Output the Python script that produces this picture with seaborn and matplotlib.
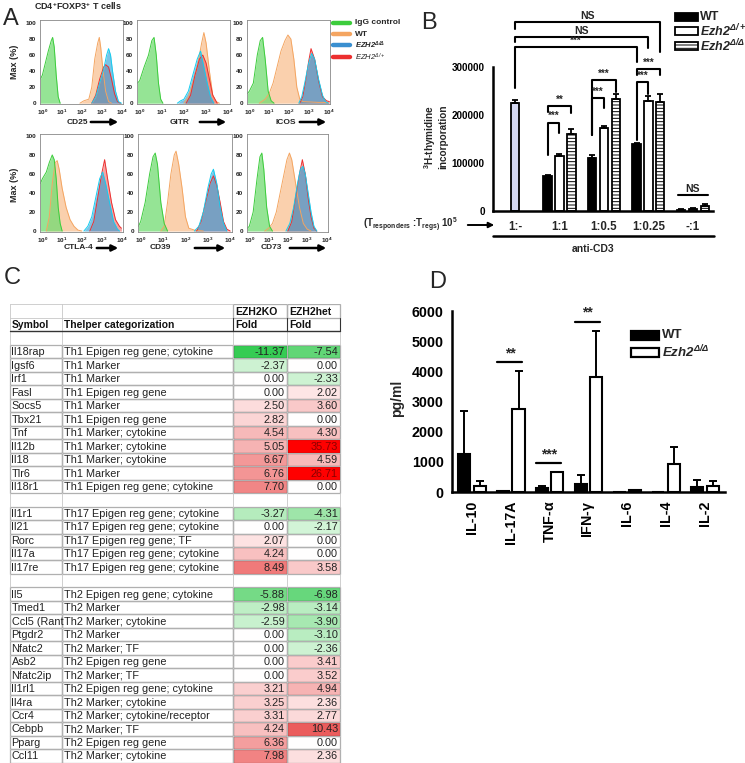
import numpy as np
import pandas as pd
import matplotlib
matplotlib.use("Agg")
import matplotlib.pyplot as plt
import seaborn as sns
from matplotlib.patches import Patch, Rectangle, FancyArrowPatch
from matplotlib.lines import Line2D
from matplotlib.colors import LinearSegmentedColormap

sns.set_theme(style="white")
plt.rcParams['font.family'] = ['Liberation Sans', 'DejaVu Sans']
plt.rcParams['mathtext.default'] = 'regular'
plt.rcParams['hatch.color'] = 'black'
plt.rcParams['hatch.linewidth'] = 0.7

# ------------------------------------------------------------------ data
# Panel A: histogram outlines (log10 fluorescence, % of max)
A_MARKERS = ["CD25", "GITR", "ICOS", "CTLA-4", "CD39", "CD73"]
A_POPS = ["IgG control", "WT", "EZH2$^{Δ/Δ}$", "EZH2$^{Δ/+}$"]
CD25_IGG = [(-0.1, 30), (0.0, 35), (0.15, 50), (0.3, 65), (0.45, 78), (0.52, 82), (0.6, 70), (0.7, 35), (0.8, 8), (0.9, 0)]
CD25_WT = [(1.9, 0), (2.1, 3), (2.35, 5), (2.5, 20), (2.65, 55), (2.8, 75), (2.88, 82), (2.95, 70), (3.05, 45), (3.2, 15), (3.35, 2), (3.5, 0)]
CD25_KO = [(2.5, 0), (2.7, 8), (2.9, 25), (3.1, 42), (3.25, 60), (3.35, 68), (3.45, 60), (3.55, 40), (3.7, 15), (3.85, 2), (4.0, 0)]
CD25_HET = [(2.5, 0), (2.7, 10), (2.9, 30), (3.1, 45), (3.2, 48), (3.35, 45), (3.5, 30), (3.65, 12), (3.8, 2), (3.95, 0)]
GITR_IGG = [(-0.1, 25), (0.0, 28), (0.2, 45), (0.4, 60), (0.55, 78), (0.65, 82), (0.75, 60), (0.85, 25), (0.95, 5), (1.05, 0)]
GITR_WT = [(2.0, 0), (2.2, 8), (2.4, 25), (2.6, 45), (2.8, 75), (2.9, 88), (3.0, 75), (3.15, 40), (3.3, 10), (3.45, 2), (3.6, 0)]
GITR_KO = [(1.7, 0), (1.85, 3), (2.0, 5), (2.2, 15), (2.4, 35), (2.6, 55), (2.75, 65), (2.9, 45), (3.05, 25), (3.2, 8), (3.35, 0)]
GITR_HET = [(2.1, 0), (2.3, 10), (2.5, 35), (2.7, 55), (2.85, 60), (3.0, 50), (3.15, 30), (3.3, 10), (3.5, 0)]
ICOS_IGG = [(-0.1, 12), (0.0, 15), (0.2, 25), (0.4, 60), (0.55, 78), (0.67, 82), (0.8, 55), (0.95, 15), (1.1, 3), (1.25, 0)]
ICOS_WT = [(0.5, 0), (0.8, 5), (1.0, 12), (1.2, 25), (1.4, 45), (1.6, 65), (1.8, 78), (1.95, 85), (2.1, 80), (2.25, 55), (2.4, 20), (2.55, 5), (2.7, 2), (3.5, 1), (4.0, 1)]
ICOS_KO = [(2.5, 0), (2.65, 8), (2.8, 25), (3.0, 50), (3.15, 62), (3.3, 55), (3.5, 30), (3.7, 10), (3.85, 2), (4.0, 0)]
ICOS_HET = [(2.55, 0), (2.7, 8), (2.85, 28), (3.0, 52), (3.12, 68), (3.3, 55), (3.5, 28), (3.7, 8), (3.9, 3), (4.05, 2)]
CTLA4_IGG = [(-0.1, 50), (0.0, 55), (0.2, 62), (0.35, 72), (0.5, 80), (0.6, 75), (0.7, 55), (0.8, 25), (0.9, 8), (1.0, 0)]
CTLA4_WT = [(0.2, 0), (0.35, 15), (0.5, 50), (0.65, 72), (0.75, 74), (0.85, 65), (1.0, 45), (1.2, 25), (1.4, 12), (1.6, 5), (1.8, 1), (2.0, 0)]
CTLA4_KO = [(2.1, 0), (2.3, 5), (2.5, 15), (2.7, 35), (2.9, 55), (3.05, 62), (3.2, 50), (3.4, 30), (3.6, 10), (3.8, 2), (3.9, 0)]
CTLA4_HET = [(2.4, 0), (2.6, 10), (2.8, 35), (3.0, 60), (3.15, 75), (3.3, 55), (3.5, 30), (3.7, 12), (3.9, 5), (4.0, 3)]
CD39_IGG = [(-0.1, 5), (0.0, 10), (0.2, 30), (0.4, 60), (0.55, 78), (0.65, 82), (0.75, 70), (0.9, 30), (1.05, 8), (1.2, 0)]
CD39_WT = [(0.9, 0), (1.05, 5), (1.2, 30), (1.35, 60), (1.5, 80), (1.58, 84), (1.7, 70), (1.85, 45), (2.0, 15), (2.15, 3), (2.4, 1), (2.8, 0)]
CD39_KO = [(2.4, 0), (2.6, 5), (2.8, 20), (3.0, 45), (3.15, 60), (3.25, 65), (3.4, 50), (3.55, 25), (3.7, 8), (3.85, 0)]
CD39_HET = [(2.5, 0), (2.7, 10), (2.9, 30), (3.1, 50), (3.25, 58), (3.4, 48), (3.55, 30), (3.7, 10), (3.85, 2), (4.0, 0)]
CD73_IGG = [(-0.1, 3), (0.0, 5), (0.2, 20), (0.4, 55), (0.55, 78), (0.65, 82), (0.75, 65), (0.9, 25), (1.05, 5), (1.2, 0)]
CD73_WT = [(0.8, 0), (1.0, 3), (1.2, 8), (1.4, 20), (1.6, 40), (1.8, 60), (1.95, 75), (2.08, 82), (2.2, 75), (2.4, 50), (2.6, 25), (2.8, 8), (3.0, 2), (3.2, 0)]
CD73_KO = [(1.9, 0), (2.1, 8), (2.3, 25), (2.5, 50), (2.65, 65), (2.78, 68), (2.9, 60), (3.05, 40), (3.2, 20), (3.35, 5), (3.5, 0)]
CD73_HET = [(2.0, 0), (2.2, 10), (2.4, 35), (2.6, 60), (2.75, 75), (2.9, 60), (3.05, 35), (3.2, 15), (3.35, 3), (3.5, 0)]

# Panel B: 3H-thymidine incorporation
B_GROUPS = ["1:-", "1:1", "1:0.5", "1:0.25", "-:1"]
B_GENO = ["WT", "Ezh2Δ/+", "Ezh2Δ/Δ"]
B_CTRL = [225000]
B_CTRL_ERR = [6000]
B_WT = [73000, 110000, 140000, 3000]
B_WT_ERR = [2000, 6000, 2000, 1500]
B_HET = [115000, 173000, 230000, 5000]
B_HET_ERR = [4000, 5000, 9000, 1500]
B_KO = [160000, 233000, 228000, 10000]
B_KO_ERR = [11000, 11000, 15000, 4000]

# Panel C: table
TH1_SYMBOL = ["Il18rap", "Igsf6", "Irf1", "Fasl", "Socs5", "Tbx21", "Tnf", "Il12b", "Il18", "Tlr6", "Il18r1"]
TH1_CAT = ["Th1 Epigen reg gene; cytokine", "Th1 Marker", "Th1 Marker", "Th1 Epigen reg gene", "Th1 Marker",
           "Th1 Epigen reg gene", "Th1 Marker; cytokine", "Th1 Marker; cytokine", "Th1 Marker; cytokine",
           "Th1 Marker", "Th1 Epigen reg gene; cytokine"]
TH1_KO = [-11.37, -2.37, 0.00, 0.00, 2.50, 2.82, 4.54, 5.05, 6.67, 6.76, 7.70]
TH1_HET = [-7.54, 0.00, -2.33, 2.02, 3.60, 0.00, 4.30, 35.73, 4.59, 26.71, 0.00]
TH17_SYMBOL = ["Il1r1", "Il21", "Rorc", "Il17a", "Il17re"]
TH17_CAT = ["Th17 Epigen reg gene; cytokine", "Th17 Epigen reg gene; cytokine", "Th17 Epigen reg gene; TF",
            "Th17 Epigen reg gene; cytokine", "Th17 Epigen reg gene; cytokine"]
TH17_KO = [-3.27, 0.00, 2.07, 4.24, 8.49]
TH17_HET = [-4.31, -2.17, 0.00, 0.00, 3.58]
TH2_SYMBOL = ["Il5", "Tmed1", "Ccl5 (Rant", "Ptgdr2", "Nfatc2", "Asb2", "Nfatc2ip", "Il1rl1", "Il4ra", "Ccr4",
              "Cebpb", "Pparg", "Ccl11"]
TH2_CAT = ["Th2 Epigen reg gene; cytokine", "Th2 Marker", "Th2 Marker; cytokine", "Th2 Marker", "Th2 Marker; TF",
           "Th2 Epigen reg gene", "Th2 Marker; TF", "Th2 Epigen reg gene; cytokine", "Th2 Marker; cytokine",
           "Th2 Marker; cytokine/receptor", "Th2 Marker; TF", "Th2 Epigen reg gene", "Th2 Marker; cytokine"]
TH2_KO = [-5.88, -2.98, -2.59, 0.00, 0.00, 0.00, 0.00, 3.21, 3.25, 3.31, 4.24, 6.36, 7.98]
TH2_HET = [-6.98, -3.14, -3.90, -3.10, -2.36, 3.41, 3.52, 4.94, 2.36, 2.77, 10.43, 0.00, 2.36]

# Panel D: cytokines
D_CYTO = ["IL-10", "IL-17A", "TNF-$\\alpha$", "IFN-$\\gamma$", "IL-6", "IL-4", "IL-2"]
D_GENO = ["WT", "Ezh2Δ/Δ"]
D_WT = [1250, 30, 120, 250, 0, 10, 170]
D_WT_ERR = [1420, 10, 90, 320, 0, 0, 220]
D_KO = [200, 2760, 650, 3820, 60, 920, 200]
D_KO_ERR = [180, 1250, 20, 1520, 20, 580, 150]

# ------------------------------------------------------------------ helpers
W, H = 745, 763
fig = plt.figure(figsize=(W / 100, H / 100), dpi=100)
fig.patch.set_facecolor("white")


def rect(l, t, r, b):
    return [l / W, 1 - b / H, (r - l) / W, (b - t) / H]


def fx(x):
    return x / W


def fy(y):
    return 1 - y / H


def ftext(x, y, s, **kw):
    kw.setdefault("ha", "left")
    kw.setdefault("va", "center")
    return fig.text(fx(x), fy(y), s, **kw)


def farrow(x0, x1, y, lw=1.8, ms=10):
    fig.add_artist(FancyArrowPatch((fx(x0), fy(y)), (fx(x1), fy(y)), transform=fig.transFigure,
                                   arrowstyle='-|>', mutation_scale=ms, lw=lw, color='black'))


# ------------------------------------------------------------------ Panel A
ftext(3, 19, "A", fontsize=17)
ftext(34, 6, "CD4$^{+}$FOXP3$^{+}$ T cells", fontsize=6.5, fontweight="bold")

A_CURVES = {
    "CD25": [CD25_IGG, CD25_WT, CD25_KO, CD25_HET],
    "GITR": [GITR_IGG, GITR_WT, GITR_KO, GITR_HET],
    "ICOS": [ICOS_IGG, ICOS_WT, ICOS_KO, ICOS_HET],
    "CTLA-4": [CTLA4_IGG, CTLA4_WT, CTLA4_KO, CTLA4_HET],
    "CD39": [CD39_IGG, CD39_WT, CD39_KO, CD39_HET],
    "CD73": [CD73_IGG, CD73_WT, CD73_KO, CD73_HET],
}
A_FILL = ["#72dc72", "#f7b277", "#2b9ed6", "#ee5a5a"]
A_ALPHA = [0.75, 0.6, 0.62, 0.55]
A_EDGE = ["#3ccc3c", "#f4a561", "#13cdf0", "#ec2f2f"]
A_RECTS = [(40, 20, 123, 104), (137, 20, 230, 104), (247, 20, 330, 104),
           (40, 134, 123, 232), (138, 134, 232, 232), (247, 134, 328, 232)]
A_YTOP = [103.7, 103.7, 103.7, 102, 102, 102]
A_LABEL_POS = [(77, 88, 121, 122), (180, 197, 229, 122), (286, 297, 329, 122),
               (79, 94, 121, 248), (160, 192, 228, 248), (271, 287, 329, 248)]

for i, m in enumerate(A_MARKERS):
    ax = fig.add_axes(rect(*A_RECTS[i]))
    curves = A_CURVES[m]
    for k in [1, 0, 3, 2]:
        xs = [p[0] for p in curves[k]]
        ys = [p[1] for p in curves[k]]
        ax.fill_between(xs, ys, 0, color=A_FILL[k], alpha=A_ALPHA[k], lw=0)
        sns.lineplot(x=xs, y=ys, ax=ax, color=A_EDGE[k], lw=0.7, estimator=None, sort=False)
    ax.set_xlim(-0.12, 4.08)
    ax.set_ylim(-1, A_YTOP[i])
    ax.set_xticks([0, 1, 2, 3, 4])
    ax.set_xticklabels(["10$^{%d}$" % t for t in range(5)], fontsize=4.6, fontweight="bold")
    ax.set_yticks([0, 20, 40, 60, 80, 100])
    ax.set_yticklabels(["0", "20", "40", "60", "80", "100"], fontsize=4.6, fontweight="bold")
    ax.tick_params(axis="both", direction="out", length=2, width=0.6, pad=1, colors="#222")
    for s in ax.spines.values():
        s.set_color("#888")
        s.set_linewidth(0.6)
    ax.set_xlabel("")
    ax.set_ylabel("")
    lx, a0, a1, ly = A_LABEL_POS[i]
    ftext(lx, ly, m, fontsize=6, fontweight="bold", ha="center")
    farrow(a0, a1, ly, lw=1.8, ms=9)

ftext(15, 62, "Max (%)", fontsize=6.5, fontweight="bold", rotation=90, ha="center")
ftext(15, 185, "Max (%)", fontsize=6.5, fontweight="bold", rotation=90, ha="center")

for k, (lab, yy) in enumerate(zip(A_POPS, [23, 34, 45, 57])):
    fig.add_artist(Line2D([fx(333), fx(350)], [fy(yy), fy(yy)], lw=3.2, color=A_EDGE[k] if k != 2 else "#3a8fd0",
                          transform=fig.transFigure))
    ftext(355, yy, lab, fontsize=6 if k < 2 else 5.5, fontweight="bold" if k < 3 else "normal",
          fontstyle="italic" if k >= 2 else "normal")

# ------------------------------------------------------------------ Panel B
ftext(421, 23, "B", fontsize=17)
axB = fig.add_axes(rect(493, 8, 713, 211))
rowsB = [dict(group=B_GROUPS[0], geno=B_GENO[1], val=B_CTRL[0], err=B_CTRL_ERR[0])]
for i, g in enumerate(B_GROUPS[1:]):
    rowsB.append(dict(group=g, geno=B_GENO[0], val=B_WT[i], err=B_WT_ERR[i]))
    rowsB.append(dict(group=g, geno=B_GENO[1], val=B_HET[i], err=B_HET_ERR[i]))
    rowsB.append(dict(group=g, geno=B_GENO[2], val=B_KO[i], err=B_KO_ERR[i]))
dfB = pd.DataFrame(rowsB)
sns.barplot(data=dfB, x="group", y="val", hue="geno", order=B_GROUPS, hue_order=B_GENO,
            palette={B_GENO[0]: "black", B_GENO[1]: "white", B_GENO[2]: "white"},
            edgecolor="black", linewidth=1.3, errorbar=None, width=0.8, gap=0.3,
            legend=False, ax=axB)
slot = 0.8 / 3
for p in axB.patches:
    cx = p.get_x() + p.get_width() / 2
    if abs(cx) < 0.05:
        p.set_facecolor("#d4d8f2")
    elif abs((cx - round(cx)) - slot) < 0.05:
        p.set_hatch("-----")
offs = {B_GENO[0]: -slot, B_GENO[1]: 0.0, B_GENO[2]: slot}
xb = [B_GROUPS.index(g) + offs[h] for g, h in zip(dfB["group"], dfB["geno"])]
axB.errorbar(xb, dfB["val"], yerr=[np.zeros(len(dfB)), dfB["err"]], fmt="none", ecolor="black",
             elinewidth=1.3, capsize=2.3, capthick=1.3)
axB.set_xlim(-0.494, 4.45)
axB.set_ylim(0, 423000)
axB.set_yticks([0, 100000, 200000, 300000])
axB.set_yticklabels(["0", "100000", "200000", "300000"], fontsize=7.1, fontweight="bold")
axB.set_xticks(range(5))
axB.set_xticklabels(B_GROUPS, fontsize=8.3, fontweight="bold")
axB.tick_params(axis="y", direction="out", length=4, width=1.6, pad=2, colors="black")
axB.tick_params(axis="x", length=0, pad=7)
axB.set_xlabel("")
axB.set_ylabel("")
for s in ["top", "right"]:
    axB.spines[s].set_visible(False)
axB.spines["left"].set_bounds(0, 300000)
for s in ["left", "bottom"]:
    axB.spines[s].set_linewidth(1.8)
    axB.spines[s].set_color("black")

B_BRACKETS = [
    ((0, 0), (3, 1), 393000, 379000, 332000, "NS"),
    ((0, 0), (3, 0), 362000, 353000, 340000, "NS"),
    ((0, 0), (3, -1), 342000, 256000, 311000, "***"),
    ((3, -1), (3, 1), 295000, 283000, 283000, "***"),
    ((3, -1), (3, 0), 269000, 148000, 244000, "***"),
    ((2, -1), (2, 1), 273000, 158000, 248000, "***"),
    ((2, -1), (2, 0), 235000, 158000, 214000, "***"),
    ((1, -1), (1, 1), 219000, 207000, 204000, "**"),
    ((1, -1), (1, 0), 184000, 117000, 162000, "***"),
]
for (g1, h1), (g2, h2), yl, y1, y2, lab in B_BRACKETS:
    x1 = g1 + h1 * slot
    x2 = g2 + h2 * slot
    axB.plot([x1, x1, x2, x2], [y1, yl, yl, y2], color="black", lw=1.5, clip_on=False)
    axB.text((x1 + x2) / 2, yl + 3000, lab, ha="center", va="bottom", fontsize=7.5 if lab == "NS" else 7,
             fontweight="bold")
axB.plot([4 - 0.34, 4 + 0.34], [33000, 33000], color="black", lw=1.5)
axB.text(4, 36000, "NS", ha="center", va="bottom", fontsize=7.5, fontweight="bold")

ftext(435, 137, "$^{3}$H-thymidine\nincorporation", fontsize=7.2, fontweight="bold", rotation=90,
      ha="center", linespacing=1.0)
ftext(458, 225, "(T$_{responders}$ :T$_{regs)}$ 10$^{5}$", fontsize=7, fontweight="bold", ha="right")
farrow(465, 497, 225, lw=1.4, ms=8)
fig.add_artist(Line2D([fx(493), fx(714)], [fy(236), fy(236)], lw=1.8, color="black", transform=fig.transFigure))
ftext(593, 249, "anti-CD3", fontsize=7.5, fontweight="bold", ha="center")

B_LEG = [("WT", "black", None, 17), ("Ezh2$^{Δ/+}$", "white", None, 31), ("Ezh2$^{Δ/Δ}$", "white", "-----", 46)]
for lab, fc, hatch, yy in B_LEG:
    fig.add_artist(Rectangle((fx(675), fy(yy + 4)), fx(698) - fx(675), fy(yy - 4) - fy(yy + 4),
                             transform=fig.transFigure, facecolor=fc, edgecolor="black", lw=1.3, hatch=hatch))
    ftext(700, yy, lab, fontsize=9, fontweight="bold", fontstyle="normal" if lab == "WT" else "italic")

# ------------------------------------------------------------------ Panel C
ftext(4, 278, "C", fontsize=17)
T_TOP, T_BOT = 304.5, 762.5
NROWS = 34
rows_sym, rows_cat, rows_ko, rows_het, rows_kind = [], [], [], [], []
rows_sym += ["", "Symbol", ""]
rows_cat += ["", "Thelper categorization", ""]
rows_ko += [np.nan] * 3
rows_het += [np.nan] * 3
rows_kind += ["h0", "h1", "blank"]
for syms, cats, kos, hets, last in [(TH1_SYMBOL, TH1_CAT, TH1_KO, TH1_HET, False),
                                    (TH17_SYMBOL, TH17_CAT, TH17_KO, TH17_HET, False),
                                    (TH2_SYMBOL, TH2_CAT, TH2_KO, TH2_HET, True)]:
    rows_sym += syms
    rows_cat += cats
    rows_ko += kos
    rows_het += hets
    rows_kind += ["data"] * len(syms)
    if not last:
        rows_sym.append("")
        rows_cat.append("")
        rows_ko.append(np.nan)
        rows_het.append(np.nan)
        rows_kind.append("blank")

mat = pd.DataFrame({"EZH2KO": rows_ko, "EZH2het": rows_het})
nodes = [(-12, "#2fcb4e"), (-6, "#74da86"), (-3, "#bdeec4"), (-2, "#d8f5dc"), (0, "#ffffff"),
         (2, "#fde4e4"), (5, "#f6b2b2"), (8.5, "#f07a7a"), (11, "#ea5252"), (20, "#f41a1a"),
         (26, "#ff0000"), (36, "#ff0000")]
cmap = LinearSegmentedColormap.from_list("gwr", [((v + 12) / 48, c) for v, c in nodes])
axH = fig.add_axes(rect(233, T_TOP, 340, T_BOT))
sns.heatmap(mat, cmap=cmap, vmin=-12, vmax=36, cbar=False, ax=axH, xticklabels=False, yticklabels=False)
axH.axis("off")

axT = fig.add_axes(rect(8, T_TOP, 342, T_BOT))
axT.set_facecolor("none")
axT.set_xlim(8, 342)
axT.set_ylim(NROWS, 0)
axT.axis("off")
cols = [10, 62, 233, 287, 340]
for r in range(NROWS + 1):
    axT.plot([cols[0], cols[-1]], [r, r], color="#c8c8c8", lw=0.6)
for c in cols:
    axT.plot([c, c], [0, NROWS], color="#c8c8c8", lw=0.6)
fs = 7.8
for r, kind in enumerate(rows_kind):
    if kind == "h0":
        for c0, c1 in [(cols[2], cols[3]), (cols[3], cols[4])]:
            axT.add_patch(Rectangle((c0, r), c1 - c0, 1, fill=False, edgecolor="#333", lw=0.8))
        axT.text(cols[2] + 2, r + 0.55, "EZH2KO", fontsize=7.6, fontweight="bold", va="center", color="#111")
        axT.text(cols[3] + 2, r + 0.55, "EZH2het", fontsize=7.6, fontweight="bold", va="center", color="#111")
    elif kind == "h1":
        axT.plot([cols[0], cols[-1]], [r + 1, r + 1], color="#333", lw=1.0)
        for c in cols[2:]:
            axT.plot([c, c], [r, r + 1], color="#333", lw=0.8)
        axT.text(cols[0] + 1.5, r + 0.55, "Symbol", fontsize=7.4, fontweight="bold", va="center", color="#111")
        axT.text(cols[1] + 2, r + 0.55, "Thelper categorization", fontsize=7.4, fontweight="bold", va="center",
                 color="#111")
        axT.text(cols[2] + 2, r + 0.55, "Fold", fontsize=7.6, fontweight="bold", va="center", color="#111")
        axT.text(cols[3] + 2, r + 0.55, "Fold", fontsize=7.6, fontweight="bold", va="center", color="#111")
    elif kind == "data":
        for c0, c1 in zip(cols[:-1], cols[1:]):
            axT.add_patch(Rectangle((c0, r), c1 - c0, 1, fill=False, edgecolor="#3a3a3a", lw=0.8))
        axT.text(cols[0] + 1.5, r + 0.55, rows_sym[r], fontsize=fs, va="center", color="#222", clip_on=True)
        axT.text(cols[1] + 2, r + 0.55, rows_cat[r], fontsize=fs, va="center", color="#222")
        for ci, v in [(3, rows_ko[r]), (4, rows_het[r])]:
            col = "#8a0000" if v > 20 else "#222"
            axT.text(cols[ci] - 2, r + 0.55, "%.2f" % v, fontsize=fs, va="center", ha="right", color=col)

# ------------------------------------------------------------------ Panel D
ftext(429, 282, "D", fontsize=17)
axD = fig.add_axes(rect(452, 302, 725, 492))
rowsD = []
for i, c in enumerate(D_CYTO):
    rowsD.append(dict(cyto=c, geno=D_GENO[0], val=D_WT[i], err=D_WT_ERR[i]))
    rowsD.append(dict(cyto=c, geno=D_GENO[1], val=D_KO[i], err=D_KO_ERR[i]))
dfD = pd.DataFrame(rowsD)
sns.barplot(data=dfD, x="cyto", y="val", hue="geno", order=D_CYTO, hue_order=D_GENO,
            palette={D_GENO[0]: "black", D_GENO[1]: "white"}, edgecolor="black", linewidth=1.5,
            errorbar=None, width=0.8, gap=0.22, legend=False, ax=axD)
offD = {D_GENO[0]: -0.2, D_GENO[1]: 0.2}
xd = [D_CYTO.index(c) + offD[h] for c, h in zip(dfD["cyto"], dfD["geno"])]
axD.errorbar(xd, dfD["val"], yerr=[np.zeros(len(dfD)), dfD["err"]], fmt="none", ecolor="black",
             elinewidth=1.4, capsize=2.8, capthick=1.4)
axD.set_xlim(-0.515, 6.52)
axD.set_ylim(0, 6300)
axD.set_yticks(range(0, 6001, 1000))
axD.set_yticklabels([str(v) for v in range(0, 6001, 1000)], fontsize=10.3, fontweight="bold")
axD.set_xticks(range(7))
axD.set_xticklabels(D_CYTO, fontsize=10.3, fontweight="bold", rotation=90)
axD.tick_params(axis="both", direction="out", length=4, width=1.6, pad=2, colors="black")
axD.set_xlabel("")
axD.set_ylabel("")
for s in ["top", "right"]:
    axD.spines[s].set_visible(False)
axD.spines["left"].set_bounds(0, 6000)
for s in ["left", "bottom"]:
    axD.spines[s].set_linewidth(1.8)
    axD.spines[s].set_color("black")
D_SIG = [(1, 4300, "**"), (2, 950, "***"), (3, 5650, "**")]
for g, yl, lab in D_SIG:
    axD.plot([g - 0.35, g + 0.3], [yl, yl], color="black", lw=1.6, clip_on=False)
    axD.text(g - 0.02, yl + 60, lab, ha="center", va="bottom", fontsize=10, fontweight="bold")
ftext(397, 398, "pg/ml", fontsize=10, fontweight="bold", rotation=90, ha="center")
for lab, fc, yy in [("WT", "black", 335), ("Ezh2$^{Δ/Δ}$", "white", 352)]:
    fig.add_artist(Rectangle((fx(631), fy(yy + 4.5)), fx(659) - fx(631), fy(yy - 4.5) - fy(yy + 4.5),
                             transform=fig.transFigure, facecolor=fc, edgecolor="black", lw=1.6))
    ftext(662, yy, lab, fontsize=9.5, fontweight="bold", fontstyle="normal" if lab == "WT" else "italic")

fig.savefig("out.png", dpi=100, facecolor="white")
